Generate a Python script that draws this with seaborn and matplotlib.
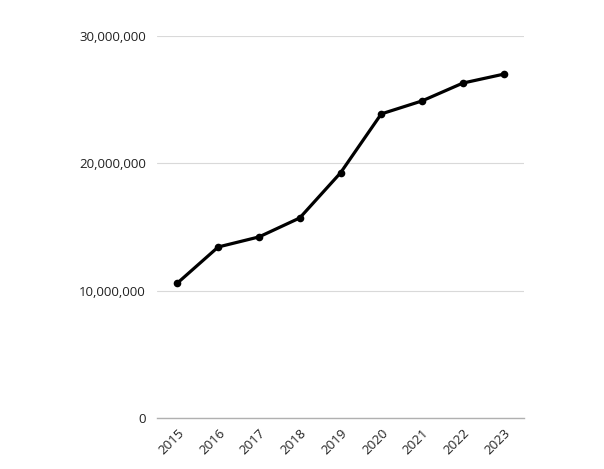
import pandas as pd
import matplotlib.pyplot as plt
import seaborn as sns
from matplotlib.ticker import FuncFormatter

years = ['2015', '2016', '2017', '2018', '2019', '2020', '2021', '2022', '2023']
values = [10600000, 13430000, 14220000, 15710000, 19250000,
          23880000, 24900000, 26300000, 27000000]

df = pd.DataFrame({'year': years, 'value': values})

sns.set_style('white')
plt.rcParams['font.family'] = ['Open Sans', 'DejaVu Sans']

fig = plt.figure(figsize=(6.04, 4.69), dpi=100)
ax = fig.add_axes([0.26, 0.1087, 0.6075, 0.8146])

sns.lineplot(data=df, x='year', y='value', ax=ax, color='black',
             linewidth=2.3, marker='o', markersize=5.5, markeredgewidth=0,
             sort=False)

ax.set_xlim(-0.5, len(years) - 0.5)
ax.set_ylim(0, 30000000)
ax.set_yticks([0, 10000000, 20000000, 30000000])
ax.yaxis.set_major_formatter(FuncFormatter(lambda v, p: f'{int(v):,}'))
ax.grid(axis='y', color='#d9d9d9', linewidth=0.8)
ax.set_axisbelow(True)

for s in ['top', 'right', 'left']:
    ax.spines[s].set_visible(False)
ax.spines['bottom'].set_color('#b0b0b0')
ax.spines['bottom'].set_linewidth(1.0)

ax.tick_params(axis='both', length=0, labelsize=9.5, labelcolor='#222222')
ax.tick_params(axis='y', pad=8)
ax.tick_params(axis='x', pad=6)
for lbl in ax.get_xticklabels():
    lbl.set_rotation(45)
    lbl.set_ha('right')
    lbl.set_rotation_mode('anchor')

ax.set_xlabel('')
ax.set_ylabel('')

fig.savefig('out.png', dpi=100)
